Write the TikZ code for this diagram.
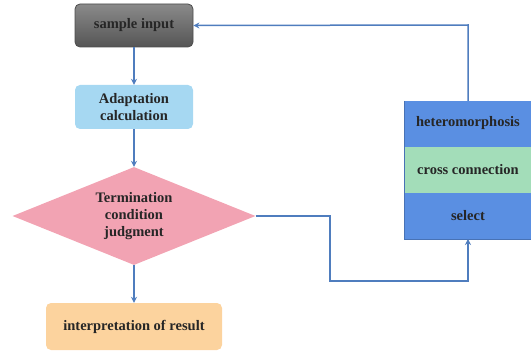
\documentclass[tikz,border=0pt]{standalone}
\usepackage{fontspec}
\setmainfont{Liberation Serif}
\usetikzlibrary{shapes.geometric,arrows.meta}
\definecolor{arr}{HTML}{4F7DBE}
\definecolor{grayA}{HTML}{8A8A8A}
\definecolor{grayB}{HTML}{555555}
\definecolor{blueL}{HTML}{A6D8F2}
\definecolor{pinkD}{HTML}{F2A3B3}
\definecolor{orangeL}{HTML}{FCD39E}
\definecolor{blueS}{HTML}{5A8FE2}
\definecolor{greenS}{HTML}{A3DDB9}
\tikzset{
  x=1pt,y=-1pt,
  lbl/.style={font=\bfseries\fontsize{14.5}{17}\selectfont, text=black!85, align=center},
  rbox/.style={rounded corners=5pt, inner sep=0pt, lbl},
  conn/.style={draw=arr, line width=1.5pt, -{Stealth[length=6pt,width=6pt]}},
}
\begin{document}
\begin{tikzpicture}
\useasboundingbox (0,0) rectangle (531,353);
\begin{scope}
\clip (0,0) rectangle (531,353);
% nodes
\node[rbox, draw=black!70, line width=0.8pt, top color=grayA, bottom color=grayB, minimum width=118pt, minimum height=43pt] (si) at (134,25.5) {sample input};
\node[rbox, fill=blueL, minimum width=118pt, minimum height=44pt] (ac) at (134,107) {Adaptation\\calculation};
\node[diamond, fill=pinkD, minimum width=243pt, minimum height=98pt, inner sep=0pt, aspect=2.48, lbl] (tc) at (134,216) {};
\node[lbl] at (134,216) {Termination\\condition\\judgment};
\node[rbox, fill=orangeL, minimum width=176pt, minimum height=47pt] (ir) at (134,326.5) {interpretation of result};
% stack
\node[fill=blueS, minimum width=132pt, minimum height=45.5pt, inner sep=0pt, anchor=north west] (he) at (404,101) {};
\node[fill=greenS, minimum width=132pt, minimum height=46pt, inner sep=0pt, anchor=north west] (cc) at (404,146.5) {};
\node[fill=blueS, minimum width=132pt, minimum height=46.5pt, inner sep=0pt, anchor=north west] (se) at (404,192.5) {};
\draw[blueS!80!black, line width=0.6pt] (404,101) -- (404,239) -- (536,239);
\node[lbl] at (468,123.5) {heteromorphosis};
\node[lbl] at (468,169.5) {cross connection};
\node[lbl] at (468,215.5) {select};
\coordinate (stktop) at (468,101);
\coordinate (stkbot) at (468,239);
% connectors
\draw[conn] (si.south) -- (ac.north);
\draw[conn] (ac.south) -- (tc.north);
\draw[conn] (tc.south) -- (ir.north);
\draw[conn] (tc.east) -- (330,216) -- (330,281) -- (468,281) -- (stkbot);
\draw[conn] (stktop) -- (468,25) -- (si.east);
\end{scope}
\end{tikzpicture}
\end{document}
